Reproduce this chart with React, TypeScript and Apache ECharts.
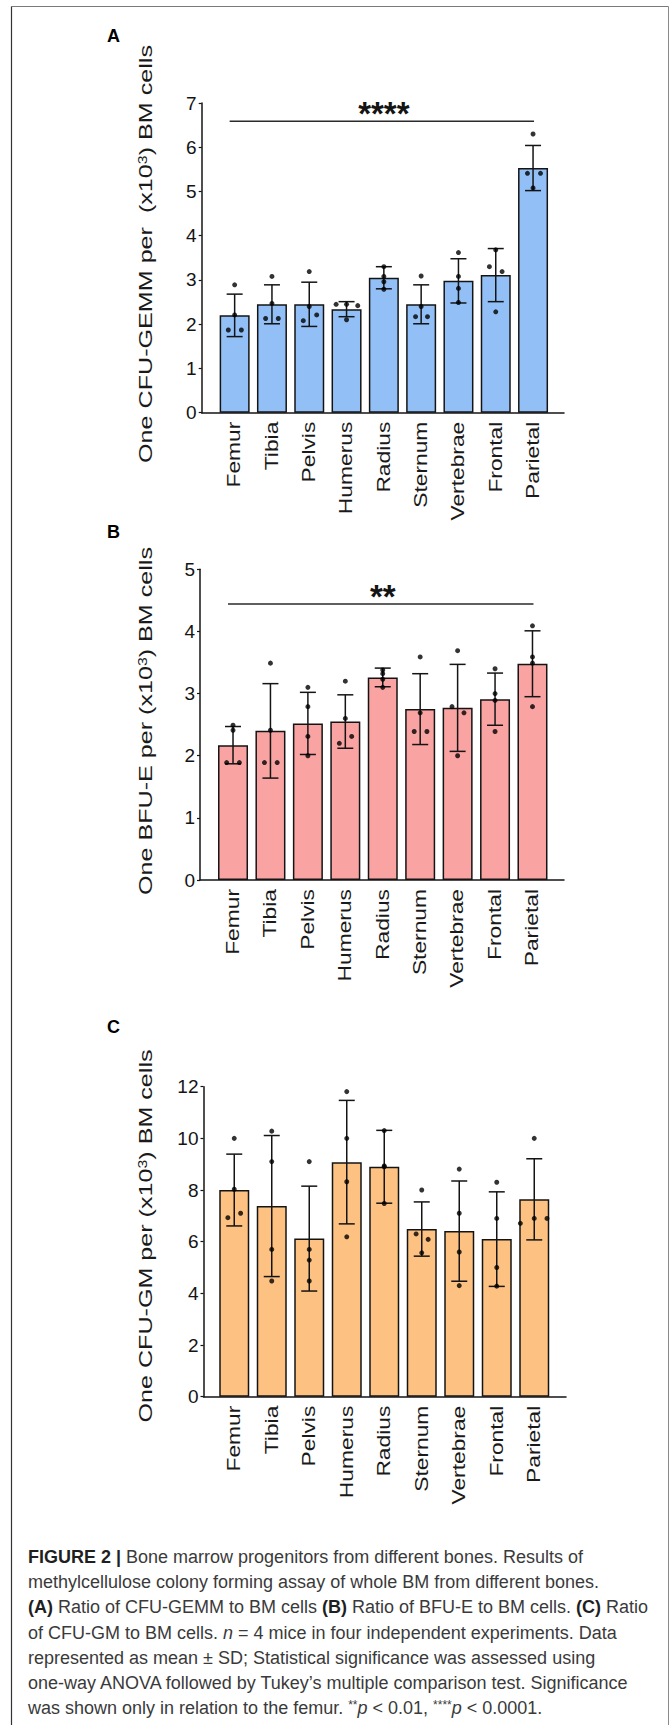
import React, { useEffect, useRef } from "react";
import * as echarts from "echarts";

// ---------- DATA ----------
const categories = ["Femur", "Tibia", "Pelvis", "Humerus", "Radius", "Sternum", "Vertebrae", "Frontal", "Parietal"];

// Panel A: CFU-GEMM
const gemmTicks = [0, 1, 2, 3, 4, 5, 6, 7];
const gemmMean = [2.2, 2.45, 2.45, 2.34, 3.05, 2.45, 2.98, 3.11, 5.53];
const gemmSD = [0.48, 0.44, 0.5, 0.17, 0.25, 0.44, 0.5, 0.6, 0.51];
const gemmPoints = [
  [2.89, 2.21, 1.87, 1.87],
  [3.08, 2.47, 2.13, 2.13],
  [3.19, 2.4, 2.08, 2.21],
  [2.45, 2.45, 2.42, 2.1],
  [3.3, 3.08, 2.96, 2.79],
  [3.09, 2.4, 2.17, 2.17],
  [3.62, 3.08, 2.81, 2.49],
  [3.68, 3.3, 3.19, 2.28],
  [6.3, 5.41, 5.41, 5.08],
];
const gemmJitter = [
  [0, 0, -0.17, 0.18],
  [0, 0, -0.17, 0.17],
  [0, 0, -0.16, 0.2],
  [-0.28, 0, 0.3, 0],
  [0, 0, 0, 0],
  [0, 0, -0.15, 0.17],
  [0, 0, 0, 0],
  [0, -0.17, 0.17, 0],
  [0, -0.15, 0.2, 0],
];
const gemmSig = { from: 0, to: 8, value: 6.59, label: "****" };

// Panel B: BFU-E
const bfueTicks = [0, 1, 2, 3, 4, 5];
const bfueMean = [2.17, 2.4, 2.52, 2.55, 3.26, 2.75, 2.77, 2.91, 3.48];
const bfueSD = [0.3, 0.76, 0.5, 0.43, 0.15, 0.57, 0.7, 0.42, 0.53];
const bfuePoints = [
  [2.49, 2.41, 1.89, 1.89],
  [3.49, 2.41, 1.89, 1.89],
  [3.1, 2.79, 2.31, 2.0],
  [3.2, 2.6, 2.31, 2.2],
  [3.38, 3.32, 3.23, 3.1],
  [3.59, 2.69, 2.39, 2.39],
  [3.69, 2.79, 2.69, 2.0],
  [3.4, 3.0, 2.89, 2.39],
  [4.09, 3.59, 3.49, 2.79],
];
const bfueJitter = [
  [0, 0, -0.17, 0.17],
  [0, 0, -0.16, 0.18],
  [0, 0, 0, 0],
  [0, 0, 0.17, -0.16],
  [0, 0, 0, 0],
  [0, 0, -0.16, 0.18],
  [0, -0.15, 0.17, 0],
  [0, 0, 0, 0],
  [0, 0, 0, 0],
];
const bfueSig = { from: 0, to: 8, value: 4.44, label: "**" };

// Panel C: CFU-GM
const cfugmTicks = [0, 2, 4, 6, 8, 10, 12];
const cfugmMean = [8.0, 7.38, 6.12, 9.08, 8.9, 6.49, 6.41, 6.1, 7.64];
const cfugmSD = [1.39, 2.73, 2.03, 2.39, 1.41, 1.05, 1.94, 1.83, 1.57];
const cfugmPoints = [
  [10.0, 8.03, 7.1, 6.93],
  [10.28, 9.1, 5.7, 4.48],
  [9.1, 5.7, 5.29, 4.48],
  [11.81, 10.0, 8.32, 6.19],
  [10.3, 8.93, 8.9, 7.48],
  [8.0, 6.3, 6.09, 5.57],
  [8.81, 7.1, 5.6, 4.3],
  [8.3, 6.9, 5.0, 4.28],
  [10.0, 6.9, 6.9, 6.71],
];
const cfugmJitter = [
  [0, 0, 0.17, -0.17],
  [0, 0, 0, 0],
  [0, 0, 0, 0],
  [0, 0, 0, 0],
  [0, 0, 0, 0],
  [0, -0.15, 0.17, 0],
  [0, 0, 0, 0],
  [0, 0, 0, 0],
  [0, 0, 0.34, -0.37],
];

const captionLines = [
  "{b|FIGURE 2 |} Bone marrow progenitors from different bones. Results of",
  "methylcellulose colony forming assay of whole BM from different bones.",
  "{b|(A)} Ratio of CFU-GEMM to BM cells {b|(B)} Ratio of BFU-E to BM cells. {b|(C)} Ratio",
  "of CFU-GM to BM cells. {i|n} = 4 mice in four independent experiments. Data",
  "represented as mean \u00b1 SD; Statistical significance was assessed using",
  "one-way ANOVA followed by Tukey\u2019s multiple comparison test. Significance",
  "was shown only in relation to the femur. {s|**}{i|p} < 0.01, {s|****}{i|p} < 0.0001.",
];

// ---------- STYLE / LAYOUT ----------
const FONT = "'Liberation Sans', Arial, Helvetica, sans-serif";
const INK = "#141414";

const panels = [
  { letter: "A", mean: gemmMean, sd: gemmSD, points: gemmPoints, jitter: gemmJitter, ticks: gemmTicks, color: "#92C0F6", titleMain: "One CFU-GEMM per  (x10", titleEnd: ") BM cells", sig: gemmSig as any },
  { letter: "B", mean: bfueMean, sd: bfueSD, points: bfuePoints, jitter: bfueJitter, ticks: bfueTicks, color: "#FAA3A3", titleMain: "One BFU-E per (x10", titleEnd: ") BM cells", sig: bfueSig as any },
  { letter: "C", mean: cfugmMean, sd: cfugmSD, points: cfugmPoints, jitter: cfugmJitter, ticks: cfugmTicks, color: "#FDC282", titleMain: "One CFU-GM per (x10", titleEnd: ") BM cells", sig: null as any },
];

const layouts = [
  { axisLeft: 201.7, axisRight: 564, top: 103, bottom: 412.7, barsLeft: 216, barsRight: 551.7, letterX: 107, letterY: 36, titleX: 146, titleY: 254, titleLen: 418 },
  { axisLeft: 200, axisRight: 564, top: 569.3, bottom: 880, barsLeft: 214.3, barsRight: 551.2, letterX: 107, letterY: 532, titleX: 146, titleY: 721, titleLen: 348 },
  { axisLeft: 203.5, axisRight: 566, top: 1086.7, bottom: 1396.7, barsLeft: 215.5, barsRight: 553, letterX: 107, letterY: 1027, titleX: 146, titleY: 1236, titleLen: 373 },
];

const LABEL_SIZE = 19;
const LABEL_SCALE = 1.2;
const TITLE_SIZE = 19;

function measure(text: string, font: string): number {
  const c = document.createElement("canvas");
  const ctx = c.getContext("2d");
  if (!ctx) return text.length * 9;
  ctx.font = font;
  return ctx.measureText(text).width;
}

const errorBar = (params: any, api: any) => {
  const i = api.value(0);
  const m = api.value(1);
  const s = api.value(2);
  const top = api.coord([i, m + s]);
  const bot = api.coord([i, m - s]);
  const st = { stroke: INK, lineWidth: 1.5 };
  return {
    type: "group",
    children: [
      { type: "line", shape: { x1: top[0], y1: top[1], x2: bot[0], y2: bot[1] }, style: st },
      { type: "line", shape: { x1: top[0] - 8, y1: top[1], x2: top[0] + 8, y2: top[1] }, style: st },
      { type: "line", shape: { x1: bot[0] - 8, y1: bot[1], x2: bot[0] + 8, y2: bot[1] }, style: st },
    ],
  };
};

const sigRender = (label: string) => (params: any, api: any) => {
  const a = api.coord([api.value(0), api.value(2)]);
  const b = api.coord([api.value(1), api.value(2)]);
  return {
    type: "group",
    children: [
      { type: "line", shape: { x1: a[0] - 5, y1: a[1], x2: b[0] + 1, y2: b[1] }, style: { stroke: "#2a2a2a", lineWidth: 1.5 } },
      {
        type: "text",
        x: (a[0] + b[0]) / 2,
        y: a[1] - 8,
        style: { text: label, fontSize: 33, fontWeight: "bold", fontFamily: FONT, fill: INK, align: "center", verticalAlign: "middle", textAlign: "center", textVerticalAlign: "middle" },
      },
    ],
  };
};

export default function App() {
  const ref = useRef<HTMLDivElement>(null);

  useEffect(() => {
    document.body.style.margin = "0";
    if (!ref.current) return;
    const chart = echarts.init(ref.current, undefined, { renderer: "svg" });

    const grid: any[] = [];
    const xAxis: any[] = [];
    const yAxis: any[] = [];
    const series: any[] = [];

    panels.forEach((p, k) => {
      const L = layouts[k];
      const max = p.ticks[p.ticks.length - 1];
      const interval = p.ticks[1] - p.ticks[0];
      grid.push({ left: L.axisLeft, top: L.top, width: L.axisRight - L.axisLeft, height: L.bottom - L.top });
      grid.push({ left: L.barsLeft, top: L.top, width: L.barsRight - L.barsLeft, height: L.bottom - L.top });

      xAxis.push({
        gridIndex: 2 * k, type: "value", min: 0, max: 1,
        axisLine: { show: true, onZero: false, lineStyle: { color: INK, width: 1.5 } },
        axisTick: { show: false }, axisLabel: { show: false }, splitLine: { show: false },
      });
      xAxis.push({ gridIndex: 2 * k + 1, type: "category", data: categories, boundaryGap: true, show: false });
      xAxis.push({ gridIndex: 2 * k + 1, type: "value", min: -0.5, max: categories.length - 0.5, show: false });

      yAxis.push({
        gridIndex: 2 * k, type: "value", min: 0, max, interval,
        axisLine: { show: true, lineStyle: { color: INK, width: 1.5 } },
        axisTick: { show: true, length: 3, lineStyle: { color: INK, width: 1.2 } },
        axisLabel: { fontSize: 19, color: INK, margin: 5, fontFamily: FONT },
        splitLine: { show: false },
      });
      yAxis.push({ gridIndex: 2 * k + 1, type: "value", min: 0, max, show: false });

      series.push({
        type: "bar", xAxisIndex: 3 * k + 1, yAxisIndex: 2 * k + 1, data: p.mean, barWidth: 30,
        itemStyle: { color: p.color, borderColor: INK, borderWidth: 1.5 }, z: 2,
      });
      series.push({
        type: "custom", xAxisIndex: 3 * k + 1, yAxisIndex: 2 * k + 1,
        data: p.mean.map((m, i) => [i, m, p.sd[i]]), encode: { x: 0, y: 1 },
        renderItem: errorBar, z: 3, clip: false,
      });
      const pts: number[][] = [];
      p.points.forEach((arr, i) => arr.forEach((v, j) => pts.push([i + p.jitter[i][j], v])));
      series.push({
        type: "scatter", xAxisIndex: 3 * k + 2, yAxisIndex: 2 * k + 1, data: pts,
        symbol: "circle", symbolSize: 5, itemStyle: { color: "#000" }, z: 4,
      });
      if (p.sig) {
        series.push({
          type: "custom", xAxisIndex: 3 * k + 2, yAxisIndex: 2 * k + 1,
          data: [[p.sig.from, p.sig.to, p.sig.value]], encode: { x: [0, 1], y: 2 },
          renderItem: sigRender(p.sig.label), z: 5, clip: false,
        });
      }
    });

    chart.setOption({ animation: false, grid, xAxis, yAxis, series });

    const g: any[] = [];
    // frame
    g.push({ type: "line", shape: { x1: 11.5, y1: 6.5, x2: 668.5, y2: 6.5 }, style: { stroke: "#7a7a7a", lineWidth: 1 } });
    g.push({ type: "line", shape: { x1: 11.5, y1: 6.5, x2: 11.5, y2: 1725 }, style: { stroke: "#333", lineWidth: 1.2 } });
    g.push({ type: "line", shape: { x1: 668.5, y1: 6.5, x2: 668.5, y2: 1725 }, style: { stroke: "#8a8a8a", lineWidth: 1 } });

    panels.forEach((p, k) => {
      const L = layouts[k];
      g.push({
        type: "text", x: L.letterX, y: L.letterY,
        style: { text: p.letter, fontSize: 18, fontWeight: "bold", fontFamily: FONT, fill: "#000", align: "left", verticalAlign: "middle", textAlign: "left", textVerticalAlign: "middle" },
      });
      const natural = measure(p.titleMain + p.titleEnd, `${TITLE_SIZE}px ${FONT}`) + measure("3", `12px ${FONT}`);
      const tScale = L.titleLen / natural;
      const base = { fontSize: TITLE_SIZE, fontFamily: FONT, fill: "#1a1a1a" };
      g.push({
        type: "text", x: L.titleX, y: L.titleY, rotation: Math.PI / 2, scaleX: tScale,
        style: {
          text: `${p.titleMain}{sup|3}${p.titleEnd}`, ...base,
          align: "center", verticalAlign: "middle", textAlign: "center", textVerticalAlign: "middle",
          rich: { sup: { fontSize: 12, fontFamily: FONT, fill: "#1a1a1a", verticalAlign: "top" } },
        },
      });
      const y0 = chart.convertToPixel({ yAxisIndex: 2 * k + 1 } as any, 0) as unknown as number;
      categories.forEach((c, i) => {
        const x = chart.convertToPixel({ xAxisIndex: 3 * k + 1 } as any, i) as unknown as number;
        g.push({
          type: "text", x: x - 1, y: y0 + 9, rotation: Math.PI / 2, scaleX: LABEL_SCALE,
          style: { text: c, fontSize: LABEL_SIZE, fontFamily: FONT, fill: "#1a1a1a", align: "right", verticalAlign: "middle", textAlign: "right", textVerticalAlign: "middle" },
        });
      });
    });

    const capRich = {
      b: { fontSize: 18, fontFamily: FONT, fontWeight: "bold", fill: "#1f1f1f" },
      i: { fontSize: 18, fontFamily: FONT, fontStyle: "italic", fill: "#3a3a3a" },
      s: { fontSize: 12, fontFamily: FONT, fill: "#3a3a3a", verticalAlign: "top" },
    };
    captionLines.forEach((line, k) => {
      g.push({
        type: "text", x: 28, y: 1557 + 25.2 * k,
        style: { text: line, fontSize: 18, fontFamily: FONT, fill: "#3a3a3a", align: "left", verticalAlign: "middle", textAlign: "left", textVerticalAlign: "middle", rich: capRich },
      });
    });

    chart.setOption({ graphic: { elements: g } });

    return () => chart.dispose();
  }, []);

  return <div ref={ref} style={{ position: "absolute", left: 0, top: 0, width: 670, height: 1725 }} />;
}
